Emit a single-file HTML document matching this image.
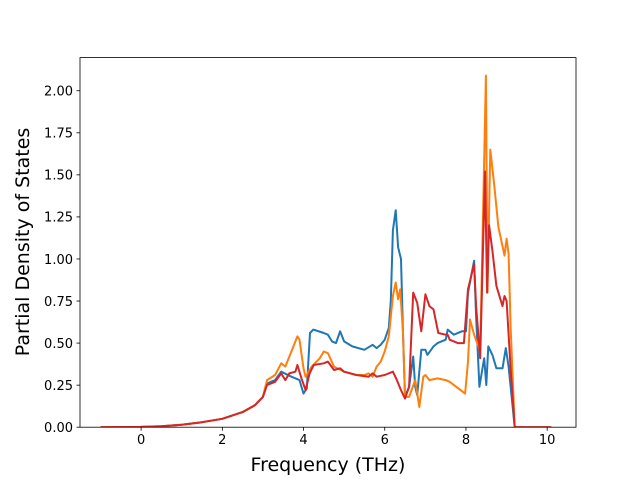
<!DOCTYPE html>
<html><head><meta charset="utf-8"><style>
body{margin:0;background:#fff}
svg text{font-family:"DejaVu Sans","Liberation Sans",sans-serif;fill:#000}
</style></head><body>
<svg id="c" width="640" height="480" xmlns="http://www.w3.org/2000/svg">
<rect width="640" height="480" fill="#fff"/>
<g id="plot"></g>
<rect x="80" y="57.6" width="496" height="369.6" fill="none" stroke="#000" stroke-width="0.8"/>
<g id="ticks"></g>
<text x="328" y="471" font-size="19" text-anchor="middle">Frequency (THz)</text>
<text transform="translate(29,242) rotate(-90)" font-size="19" text-anchor="middle">Partial Density of States</text>
</svg>
<script>
const lowX=[-1,0,0.5,1,1.5,2,2.5,2.8,3.0];
const lowY=[0,0.002,0.006,0.015,0.03,0.05,0.09,0.13,0.18];
const tailX=[9.2,10.1];
const tailY=[0,0];
const blueX=[3.1,3.3,3.45,3.7,3.9,4.0,4.08,4.16,4.24,4.5,4.6,4.7,4.8,4.9,5.0,5.2,5.5,5.7,5.8,5.9,6.0,6.1,6.15,6.2,6.27,6.33,6.4,6.45,6.5,6.6,6.7,6.75,6.8,6.9,7.0,7.05,7.2,7.3,7.5,7.55,7.7,7.9,8.0,8.05,8.2,8.25,8.33,8.4,8.45,8.5,8.55,8.65,8.75,8.9,8.98,9.05];
const blueY=[0.26,0.28,0.33,0.30,0.28,0.20,0.23,0.56,0.58,0.56,0.55,0.51,0.50,0.57,0.51,0.48,0.46,0.49,0.47,0.49,0.52,0.59,0.75,1.17,1.29,1.07,1.0,0.56,0.18,0.24,0.42,0.24,0.19,0.46,0.46,0.43,0.48,0.50,0.52,0.58,0.55,0.57,0.57,0.80,0.99,0.66,0.24,0.34,0.41,0.25,0.48,0.43,0.35,0.35,0.47,0.36];
const orangeX=[3.1,3.3,3.45,3.55,3.7,3.85,3.9,4.0,4.05,4.2,4.4,4.5,4.6,4.75,5.0,5.3,5.5,5.6,5.7,5.8,5.9,6.0,6.1,6.2,6.27,6.33,6.38,6.45,6.5,6.6,6.75,6.85,6.95,7.0,7.1,7.3,7.5,7.6,7.98,8.05,8.1,8.2,8.35,8.49,8.53,8.6,8.7,8.8,8.95,9.0,9.05,9.1];
const orangeY=[0.28,0.31,0.38,0.36,0.45,0.54,0.52,0.35,0.30,0.36,0.41,0.45,0.44,0.36,0.33,0.31,0.31,0.32,0.30,0.36,0.39,0.45,0.54,0.78,0.86,0.76,0.82,0.56,0.18,0.18,0.28,0.12,0.30,0.31,0.28,0.29,0.28,0.27,0.20,0.39,0.64,0.55,0.45,2.09,0.80,1.65,1.43,1.19,1.02,1.12,1.03,0.60];
const redX=[3.1,3.3,3.45,3.55,3.65,3.8,3.85,3.95,4.05,4.15,4.25,4.5,4.6,4.75,4.9,5.0,5.3,5.6,5.7,5.8,6.0,6.2,6.3,6.4,6.5,6.6,6.7,6.8,6.9,7.0,7.1,7.2,7.32,7.5,7.55,7.6,7.8,7.95,8.05,8.2,8.25,8.35,8.47,8.52,8.57,8.65,8.75,8.9,8.95,9.0,9.1];
const redY=[0.25,0.27,0.32,0.28,0.32,0.33,0.37,0.29,0.22,0.32,0.37,0.38,0.39,0.34,0.35,0.33,0.31,0.30,0.32,0.30,0.31,0.33,0.28,0.22,0.17,0.24,0.80,0.74,0.57,0.79,0.72,0.70,0.56,0.55,0.55,0.52,0.50,0.50,0.82,0.97,0.72,0.41,1.52,0.80,1.20,1.05,0.84,0.72,0.78,0.75,0.35];
const xTicks=[0,2,4,6,8,10];
const yTicks=[0,0.25,0.5,0.75,1.0,1.25,1.5,1.75,2.0];
const X0=-1.505,X1=10.71,Y0=0,Y1=2.197;
const L=80,R=576,T=57.6,B=427.2;
const sx=v=>L+(v-X0)/(X1-X0)*(R-L);
const sy=v=>B-(v-Y0)/(Y1-Y0)*(B-T);
const NS="http://www.w3.org/2000/svg";
const plot=document.getElementById('plot');
const defs=document.createElementNS(NS,'clipPath');defs.id='clp';
const cr=document.createElementNS(NS,'rect');cr.setAttribute('x',L);cr.setAttribute('y',T);cr.setAttribute('width',R-L);cr.setAttribute('height',B-T);
defs.appendChild(cr);plot.appendChild(defs);
plot.setAttribute('clip-path','url(#clp)');
function series(xs,ys,color,name){
  const ax=lowX.concat(xs,tailX), ay=lowY.concat(ys,tailY);
  const p=document.createElementNS(NS,'polyline');
  p.setAttribute('points',ax.map((x,i)=>sx(x).toFixed(1)+','+sy(ay[i]).toFixed(1)).join(' '));
  p.setAttribute('fill','none');p.setAttribute('stroke',color);p.setAttribute('stroke-width','2');p.setAttribute('stroke-linejoin','round');
  
  
  plot.appendChild(p);
}
series(blueX,blueY,'#1f77b4','blue-series-line');
series(orangeX,orangeY,'#ff7f0e','orange-series-line');
series(redX,redY,'#d62728','red-series-line');
const tk=document.getElementById('ticks');
xTicks.forEach(v=>{
  const l=document.createElementNS(NS,'line');
  l.setAttribute('x1',sx(v));l.setAttribute('x2',sx(v));l.setAttribute('y1',B);l.setAttribute('y2',B+3.5);l.setAttribute('stroke','#000');l.setAttribute('stroke-width','0.8');
  
  
  tk.appendChild(l);
  const t=document.createElementNS(NS,'text');
  t.setAttribute('x',sx(v));t.setAttribute('y',B+17);t.setAttribute('font-size','13');t.setAttribute('text-anchor','middle');t.textContent=v;
  
  
  tk.appendChild(t);
});
yTicks.forEach(v=>{
  const l=document.createElementNS(NS,'line');
  l.setAttribute('x1',L-3.5);l.setAttribute('x2',L);l.setAttribute('y1',sy(v));l.setAttribute('y2',sy(v));l.setAttribute('stroke','#000');l.setAttribute('stroke-width','0.8');
  
  
  tk.appendChild(l);
  const t=document.createElementNS(NS,'text');
  t.setAttribute('x',L-7);t.setAttribute('y',sy(v)+4.8);t.setAttribute('font-size','13');t.setAttribute('text-anchor','end');t.textContent=v.toFixed(2);
  
  
  tk.appendChild(t);
});
</script>
</body></html>
